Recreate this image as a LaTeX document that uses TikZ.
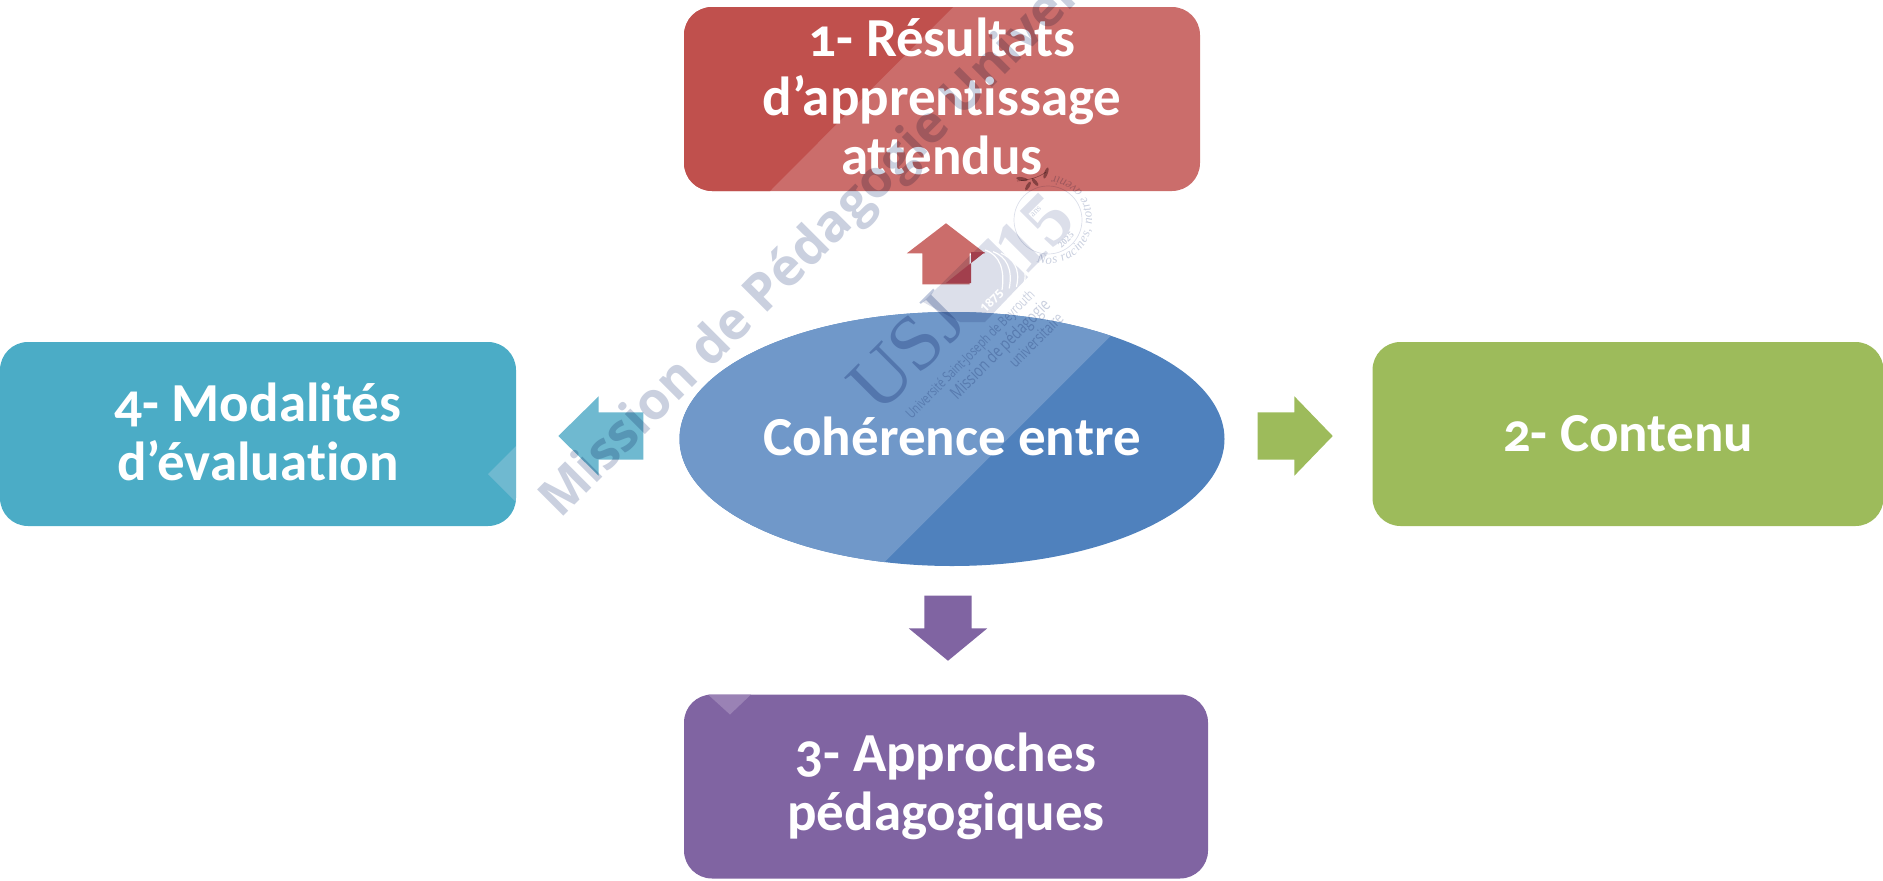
\documentclass[tikz,border=0pt]{standalone}
\usepackage{fontspec}
\usetikzlibrary{shapes.geometric,shapes.arrows,decorations.text}
\setmainfont{Carlito}[Numbers=OldStyle,Ligatures=CommonOff]
\newfontfamily\wmfont{Open Sans}
\newfontfamily\wmnarrow{Open Sans}[FakeStretch=0.75]
\newfontfamily\wmserif{Liberation Serif}
\newcommand{\upstrut}{\rule[-5pt]{0pt}{5pt}}
\definecolor{redD}{HTML}{C0504D}\definecolor{redL}{HTML}{CB6D6B}
\definecolor{bluD}{HTML}{4F81BD}\definecolor{bluL}{HTML}{7098C9}
\definecolor{grn}{HTML}{9DBB5B}
\definecolor{pur}{HTML}{8064A2}\definecolor{purL}{HTML}{9A82B5}
\definecolor{tea}{HTML}{4BACC6}\definecolor{teaL}{HTML}{6FB9D0}
\definecolor{wm}{HTML}{CAD0DF}\definecolor{wmL}{HTML}{DCDFEA}\definecolor{leaf}{HTML}{A89A9C}
\definecolor{usjc}{HTML}{BEC7DC}\definecolor{redX}{HTML}{A23F4D}
\tikzset{
 boxnode/.style={rectangle,rounded corners=28pt,minimum width=#1,minimum height=184pt,inner sep=0pt,
   text=white,align=center,font=\fontsize{55}{59}\selectfont\bfseries},
 arrownode/.style={single arrow,anchor=tip,inner xsep=5pt,inner ysep=23.5pt,draw=none,fill=#1},
 vertarrow/.style={arrownode=#1,inner xsep=23.5pt,inner ysep=5pt},
 wmtext/.style={text=wm,inner sep=0pt,rotate=45},
 overlay fill/.style={fill=#1,sharp corners},
}
\begin{document}
\begin{tikzpicture}[x=1pt,y=-1pt]
\useasboundingbox (0,0) rectangle (1883,881);
\clip (0,0) rectangle (1883,881);
\node[ellipse,minimum width=545pt,minimum height=254pt,inner sep=0pt,fill=bluD,text=white,
  font=\fontsize{55}{59}\selectfont\bfseries,
  path picture={\fill[overlay fill=bluL] (path picture bounding box.north west) -- ([shift={(455,0)}]path picture bounding box.north west) -- ([shift={(201,254)}]path picture bounding box.north west) -- (path picture bounding box.south west) -- cycle;}]
  (center) at (952,439) {Cohérence entre\upstrut};
\node[boxnode=516pt,fill=redL,
  path picture={\fill[overlay fill=redD] (path picture bounding box.north west) -- ([shift={(269,0)}]path picture bounding box.north west) -- ([shift={(86,184)}]path picture bounding box.north west) -- (path picture bounding box.south west) -- cycle;}]
  (b1) at (942,99) {1- Résultats\\d’apprentissage\\attendus\upstrut};
\node[boxnode=511pt,fill=grn] (b2) at (1628,434) {2- Contenu};
\node[boxnode=524pt,fill=pur,
  path picture={\fill[overlay fill=purL] ([shift={(24,0)}]path picture bounding box.north west) -- ([shift={(67,0)}]path picture bounding box.north west) -- ([shift={(46,20)}]path picture bounding box.north west) -- cycle;}]
  (b3) at (946,786.5) {3- Approches\\pédagogiques};
\node[boxnode=516pt,fill=tea,
  path picture={\fill[overlay fill=teaL] ([shift={(0,-80)}]path picture bounding box.south east) -- ([shift={(-28,-52)}]path picture bounding box.south east) -- ([shift={(0,-24)}]path picture bounding box.south east) -- cycle;}]
  (b4) at (258,434) {4- Modalités\\d’évaluation\upstrut};
% block arrows
\node[vertarrow=redL,shape border rotate=90,minimum height=61pt,minimum width=78pt,single arrow head extend=15.5pt,single arrow tip angle=105] (a1) at (946,223) {};
\node[arrownode=grn,shape border rotate=0,minimum height=75pt,minimum width=79pt,single arrow head extend=16pt,single arrow tip angle=92] (a2) at (1333,436) {};
\node[vertarrow=pur,shape border rotate=270,minimum height=65pt,minimum width=78pt,single arrow head extend=15.5pt,single arrow tip angle=101] (a3) at (948,661) {};
\node[arrownode=teaL,shape border rotate=180,minimum height=85pt,minimum width=79pt,single arrow head extend=16pt,single arrow tip angle=89] (a4) at (558,436) {};
% watermark
\begin{scope}[blend mode=multiply]
\node[wmtext,anchor=base west,font=\wmfont\bfseries\fontsize{52}{52}\selectfont] (wm) at (560,520) {Mission de Pédagogie Universitaire};
\fill[wmL] (923,302) -- (988,238) -- (1028,277) -- (985,322) -- (960,322) -- cycle;
\node[wmtext,text=usjc,font=\wmserif\fontsize{78}{78}\selectfont] (usj) at (907,352) {USJ};
\node[wmtext,font=\wmnarrow\fontsize{14}{14}\selectfont] (l1) at (971,355) {Université Saint-Joseph de Beyrouth};
\node[wmtext,font=\wmnarrow\fontsize{17.5}{17.5}\selectfont] (l2) at (1001,350) {Mission de pédagogie};
\node[wmtext,font=\wmnarrow\fontsize{16}{16}\selectfont] (l3) at (1036,340) {universitaire};
\node[text=wmL,inner sep=0pt,rotate=45,font=\wmserif\bfseries\fontsize{76}{76}\selectfont] (n15) at (1034,233) {15};
\node[wmtext,font=\wmserif\fontsize{9}{9}\selectfont] (ans) at (1036,212) {ans};
\node[wmtext,font=\wmserif\bfseries\fontsize{9}{9}\selectfont] (y25) at (1066,240) {2025};
\draw[wmL,line width=.7pt] (1048,220) circle[radius=34];
\path[decorate,decoration={text along path,text align=fit to path,
   text={|\wmserif\itshape\fontsize{13}{13}\selectfont\color{wm}|Nos racines, notre avenir}}]
   plot[domain=105:-85,samples=50] ({1048+44*cos(\x)},{220+44*sin(\x)});
\draw[leaf,line width=.6pt] (1017,181) .. controls (1028,180) and (1038,178) .. (1046,172);
\fill[leaf,rotate around={-10:(1022,179)}] (1022,179) ellipse[x radius=6,y radius=1.8];
\fill[leaf,rotate around={60:(1028,186)}] (1028,186) ellipse[x radius=5,y radius=1.8];
\fill[leaf,rotate around={-50:(1035,182)}] (1035,182) ellipse[x radius=5,y radius=1.8];
\fill[leaf,rotate around={70:(1046,173)}] (1046,173) ellipse[x radius=6,y radius=1.8];
\end{scope}
\fill[redX] (985,252) -- (971,252) -- (971,283) -- (946,283) -- cycle;
\node[text=white,inner sep=0pt,rotate=45,font=\wmfont\bfseries\fontsize{12}{12}\selectfont] (y75) at (992,301) {1875};
\foreach \d in {0,8,16,24}{
 \draw[white,line width=1.2pt] (985+\d,250+\d*.2) .. controls (1000+\d*.8,255+\d*.2) and (1005+\d,270-\d*.1) .. (1002+\d*.9,290-\d*.2);}
\end{tikzpicture}
\end{document}
